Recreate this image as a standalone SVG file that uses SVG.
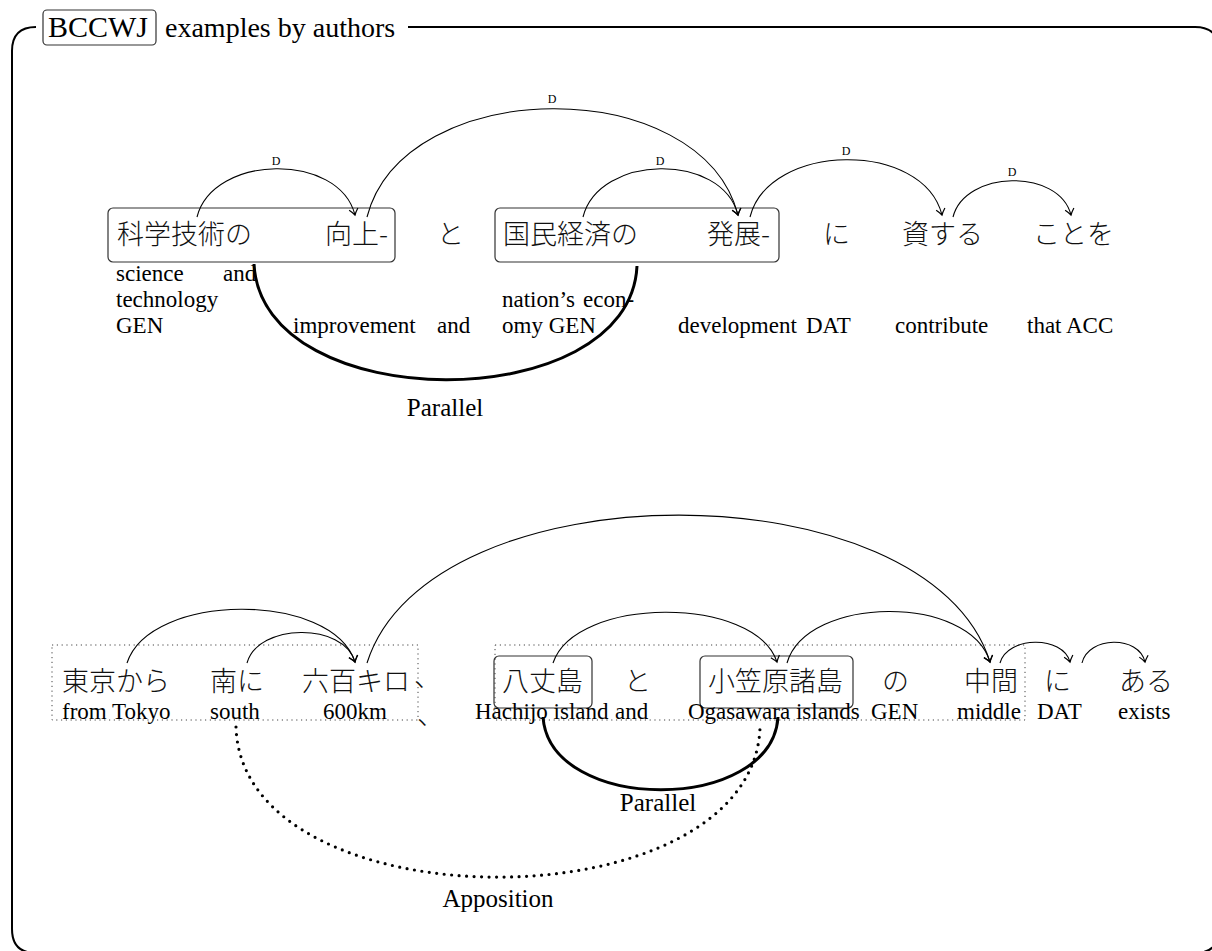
<svg xmlns="http://www.w3.org/2000/svg" width="1212" height="951" viewBox="0 0 1212 951">
<defs>
<style>
.lat{font-family:"Liberation Serif","Times New Roman",serif;fill:#000}
.g{font-size:23px}
.jp{font-family:"Noto Sans CJK JP","Noto Sans CJK SC",sans-serif;font-size:27px;font-weight:300;fill:#111}
.d{font-size:12px;text-anchor:middle}
.lbl{font-size:25px;text-anchor:middle}
.box{fill:none;stroke:#333;stroke-width:1.2}
.dbox{fill:none;stroke:#444;stroke-width:1;stroke-dasharray:1.2 3.6}
.arc{fill:none;stroke:#000;stroke-width:1.1;marker-end:url(#arr)}
.par{fill:none;stroke:#000;stroke-width:3}
.app{fill:none;stroke:#000;stroke-width:3.2;stroke-dasharray:0 7.5;stroke-linecap:round}
</style>
<marker id="arr" viewBox="-7 -6 9 12" refX="0" refY="0" markerWidth="9" markerHeight="12" orient="auto" markerUnits="userSpaceOnUse">
<path d="M -6,-4.5 Q -2,-1 0,0 Q -2,1 -6,4.5" fill="none" stroke="#000" stroke-width="1.2"/>
</marker>
</defs>
<rect width="1212" height="951" fill="#fff"/>

<g id="frame">
<path d="M 36,27 Q 12,27 12,51 L 12,929 Q 12,953 36,953 L 1195,953 Q 1219,953 1219,929 L 1219,51 Q 1219,27 1195,27 L 408,27" fill="none" stroke="#000" stroke-width="2"/>
<rect x="43" y="10" width="113" height="35" rx="4" fill="#fff" stroke="#333" stroke-width="1.2"/>
<text class="lat" x="48" y="37" font-size="30">BCCWJ</text>
<text class="lat" x="165" y="37" font-size="28">examples by authors</text>
</g>

<!-- Sentence 1 -->
<g id="s1-box1"><rect class="box" x="108" y="208" width="287" height="54" rx="5"/></g>
<g id="s1-box2"><rect class="box" x="495" y="208" width="284" height="54" rx="5"/></g>

<g id="s1-w1"><text class="jp" x="117" y="244">科学技術の</text>
<text class="lat g" x="116" y="281">science</text><text class="lat g" x="223" y="281">and</text>
<text class="lat g" x="116" y="307">technology</text><text class="lat g" x="116" y="333">GEN</text></g>
<g id="s1-w2"><text class="jp" x="325" y="244">向上-</text>
<text class="lat g" x="293" y="333">improvement</text></g>
<g id="s1-w3"><text class="jp" x="437" y="244">と</text>
<text class="lat g" x="437" y="333">and</text></g>
<g id="s1-w4"><text class="jp" x="503" y="244">国民経済の</text>
<text class="lat g" x="502" y="307">nation’s</text><text class="lat g" x="583" y="307">econ-</text>
<text class="lat g" x="502" y="333">omy GEN</text></g>
<g id="s1-w5"><text class="jp" x="707" y="244">発展-</text>
<text class="lat g" x="678" y="333">development</text></g>
<g id="s1-w6"><text class="jp" x="823" y="244">に</text>
<text class="lat g" x="806" y="333">DAT</text></g>
<g id="s1-w7"><text class="jp" x="902" y="244">資する</text>
<text class="lat g" x="895" y="333">contribute</text></g>
<g id="s1-w8"><text class="jp" x="1033" y="244">ことを</text>
<text class="lat g" x="1027" y="333">that ACC</text></g>

<!-- Sentence 2 -->
<g id="s2-dbox1"><rect class="dbox" x="52" y="645" width="366" height="75"/></g>
<g id="s2-dbox2"><rect class="dbox" x="495" y="645" width="530" height="75"/></g>
<g id="s2-box1"><rect class="box" x="494" y="656" width="98" height="52" rx="5"/></g>
<g id="s2-box2"><rect class="box" x="700" y="656" width="153" height="52" rx="5"/></g>

<g id="s2-w1"><text class="jp" x="62" y="691">東京から</text><text class="lat g" x="62" y="719">from Tokyo</text></g>
<g id="s2-w2"><text class="jp" x="210" y="691">南に</text><text class="lat g" x="210" y="719">south</text></g>
<g id="s2-w3"><text class="jp" x="302" y="691">六百キロ</text><text class="lat g" x="323" y="719">600km</text></g>
<g id="s2-w4"><text class="jp" x="414" y="687">、</text><text class="jp" x="417" y="725" font-size="20">、</text></g>
<g id="s2-w5"><text class="jp" x="502" y="691">八丈島</text><text class="lat g" x="475" y="719">Hachijo island</text></g>
<g id="s2-w6"><text class="jp" x="624" y="691">と</text><text class="lat g" x="615" y="719">and</text></g>
<g id="s2-w7"><text class="jp" x="708" y="691">小笠原諸島</text><text class="lat g" x="688" y="719">Ogasawara islands</text></g>
<g id="s2-w8"><text class="jp" x="882" y="691">の</text><text class="lat g" x="871" y="719">GEN</text></g>
<g id="s2-w9"><text class="jp" x="964" y="691">中間</text><text class="lat g" x="957" y="719">middle</text></g>
<g id="s2-w10"><text class="jp" x="1044" y="691">に</text><text class="lat g" x="1037" y="719">DAT</text></g>
<g id="s2-w11"><text class="jp" x="1119" y="691">ある</text><text class="lat g" x="1118" y="719">exists</text></g>

<g id="connectors">
<!-- sentence 1 dependencies -->
<path class="arc" d="M 197,217 C 213,154 339,152 355,215"/>
<text class="lat d" x="276" y="165">D</text>
<path class="arc" d="M 367,217 C 404,74 701,72 738,215"/>
<text class="lat d" x="552" y="103">D</text>
<path class="arc" d="M 583,217 C 599,154 722,152 738,215"/>
<text class="lat d" x="660" y="165">D</text>
<path class="arc" d="M 750,217 C 769,142 923,140 942,215"/>
<text class="lat d" x="846" y="155">D</text>
<path class="arc" d="M 953,217 C 965,170 1059,168 1071,215"/>
<text class="lat d" x="1012" y="176">D</text>
<!-- sentence 1 parallel -->
<path class="par" d="M 254,264 C 262,418 630,418 637,266"/>
<text class="lat lbl" x="445" y="416">Parallel</text>

<!-- sentence 2 dependencies -->
<path class="arc" d="M 127,663 C 150,592 332,591 355,662"/>
<path class="arc" d="M 247,663 C 258,623 344,622 355,662"/>
<path class="arc" d="M 367,663 C 429,466 928,466 990,662"/>
<path class="arc" d="M 553,663 C 575,596 755,595 777,662"/>
<path class="arc" d="M 787,663 C 807,595 970,594 990,662"/>
<path class="arc" d="M 1000,663 C 1007,636 1063,635 1070,662"/>
<path class="arc" d="M 1082,663 C 1088,636 1139,635 1145,662"/>
<!-- sentence 2 parallel / apposition -->
<path class="par" d="M 543,717 C 550,814 772,814 778,717"/>
<text class="lat lbl" x="658" y="811">Parallel</text>
<path class="app" d="M 236,727 C 242,927 752,927 760,728"/>
<text class="lat lbl" x="498" y="907">Apposition</text>
</g>
</svg>
